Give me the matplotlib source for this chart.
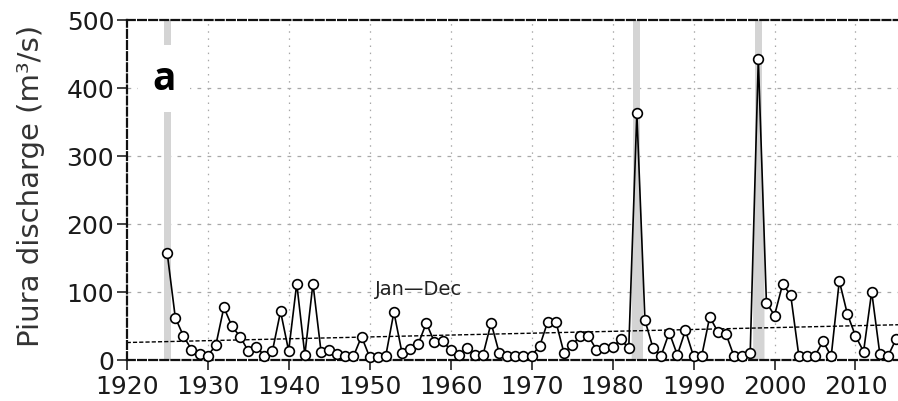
import numpy as np
import matplotlib
matplotlib.use("Agg")
import matplotlib.pyplot as plt

# Annual (Jan-Dec) mean discharge of the Piura river, m^3/s
years = list(range(1925, 2016))
discharge = [
    157, 62, 35, 15, 9, 6, 21, 77, 49, 34,        # 1925-1934
    13, 19, 6, 13, 71, 13, 112, 7, 112, 12,       # 1935-1944
    14, 9, 5, 5, 34, 4, 4, 6, 70, 10,             # 1945-1954
    16, 23, 54, 26, 28, 14, 7, 17, 7, 7,          # 1955-1964
    54, 10, 6, 6, 6, 6, 20, 56, 56, 10,           # 1965-1974
    21, 35, 35, 15, 17, 18, 30, 17, 363, 58,      # 1975-1984
    17, 6, 40, 7, 43, 5, 5, 63, 41, 38,           # 1985-1994
    5, 5, 10, 442, 84, 65, 111, 95, 6, 5,         # 1995-2004
    6, 27, 5, 116, 67, 35, 12, 100, 9, 5,         # 2005-2014
    30,                                           # 2015
]
# Extreme El Nino years highlighted with grey bars
event_years = [1925, 1983, 1998]

x_ticks = list(range(1920, 2011, 10))
y_ticks = [0, 100, 200, 300, 400, 500]

yrs = np.array(years, dtype=float)
q = np.array(discharge, dtype=float)

fig = plt.figure(figsize=(8.98, 4.02), dpi=100)
ax = fig.add_axes([126.7 / 898, 1 - 360.7 / 402, 1 - 126.7 / 898, (360.7 - 20.7) / 402])

ax.set_xlim(1920, 2015.25)
ax.set_ylim(0, 500)

grey = "#d4d4d4"
for ev in event_years:
    ax.axvspan(ev - 0.42, ev + 0.42, color=grey, lw=0, zorder=0.5)
    i = years.index(ev)
    if 0 < i < len(years) - 1:
        # shade the spike under the curve around the event year
        xs = np.linspace(ev - 0.7, ev + 0.7, 50)
        ax.fill_between(xs, 0, np.interp(xs, yrs, q), color=grey, lw=0, zorder=0.6)

# Grid
for xv in x_ticks[1:]:
    ax.axvline(xv, color="#a8a8a8", lw=0.9, ls=(0, (1.2, 4.5)), zorder=0.4)
for yv in y_ticks[1:-1]:
    ax.axhline(yv, color="#a8a8a8", lw=0.9, ls=(0, (3, 5)), zorder=0.4)

# Linear trend
coef = np.polyfit(yrs, q, 1)
tx = np.array([1920, 2015.25])
ax.plot(tx, np.polyval(coef, tx), color="black", lw=1.0, ls=(0, (3, 1.5)), zorder=1)

# Discharge series
ax.plot(yrs, q, color="black", lw=1.2, marker="o", ms=7, mfc="white",
        mec="black", mew=1.2, zorder=3, clip_on=False)

# Frame
for side in ["left", "bottom", "top"]:
    ax.spines[side].set_linestyle((0, (3.5, 1.5)))
    ax.spines[side].set_linewidth(1.6)
    ax.spines[side].set_color("#111111")
ax.spines["right"].set_visible(False)

ax.set_xticks(x_ticks)
ax.set_yticks(y_ticks)
ax.tick_params(axis="both", direction="out", length=7, width=1.2, color="#222222",
               labelsize=18, labelcolor="#1a1a1a", pad=2)
ax.tick_params(axis="x", pad=3)

ax.set_ylabel("Piura discharge (m³/s)", fontsize=21, color="#333333")
ax.yaxis.set_label_coords(-0.106, 0.514)

ax.text(1956.0, 105, "Jan—Dec", fontsize=14, color="#222222", ha="center", va="center")

ax.text(1924.6, 414, "a", fontsize=28, fontweight="bold", family="Open Sans",
        color="black", ha="center", va="center",
        bbox=dict(facecolor="white", edgecolor="none", pad=10), zorder=5)

fig.savefig("out.png", dpi=100)
